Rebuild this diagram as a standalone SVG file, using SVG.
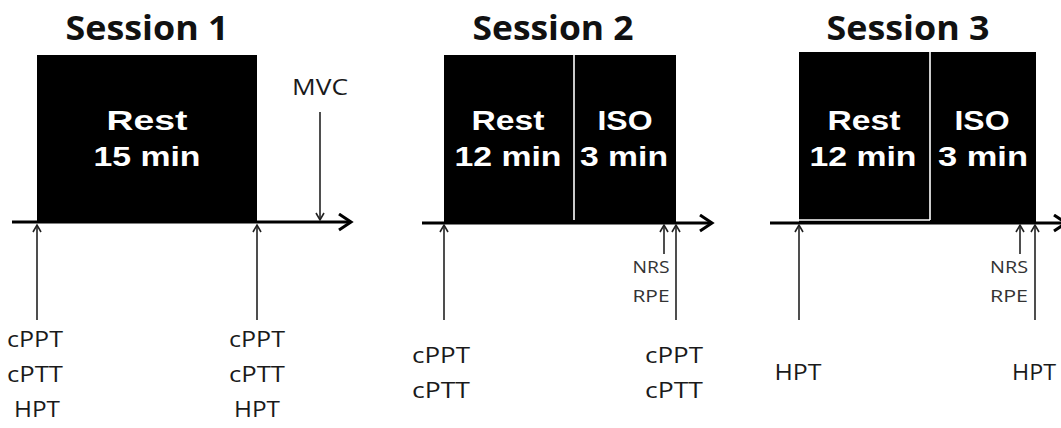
<svg xmlns="http://www.w3.org/2000/svg" width="1061" height="428" viewBox="0 0 1061 428">
<style>
.title{font-family:"Open Sans","Liberation Sans",Arial,sans-serif;font-weight:bold;font-size:34px;fill:#111;text-anchor:middle}
.box{fill:#000}
.div{stroke:#fff;stroke-width:1.6}
.bt{font-family:"Liberation Sans",Arial,sans-serif;font-weight:bold;font-size:28px;fill:#fff;text-anchor:middle}
.lb{font-family:"Open Sans","Liberation Sans",sans-serif;font-size:22px;fill:#1a1a1a;text-anchor:middle}
.sm{font-family:"Open Sans","Liberation Sans",sans-serif;font-size:17px;fill:#333;text-anchor:middle}
.ax{stroke:#000;stroke-width:3;fill:none}
.ar{stroke:#222;stroke-width:1.6;fill:none}
</style>
<defs>
<marker id="big" markerUnits="userSpaceOnUse" markerWidth="20" markerHeight="20" refX="13" refY="9" orient="auto">
<path d="M1,1 L13,9 L1,17" fill="none" stroke="#000" stroke-width="3"/>
</marker>
<marker id="sml" markerUnits="userSpaceOnUse" markerWidth="12" markerHeight="12" refX="8" refY="5" orient="auto">
<path d="M1,1 L8,5 L1,9" fill="none" stroke="#222" stroke-width="1.6"/>
</marker>
</defs>

<g id="session1">
<text class="title" x="147" y="40" textLength="163" lengthAdjust="spacingAndGlyphs">Session 1</text>
<rect class="box" x="37" y="55" width="220" height="167"/>
<text class="bt" x="147" y="130" textLength="81" lengthAdjust="spacingAndGlyphs">Rest</text>
<text class="bt" x="147" y="166" textLength="107" lengthAdjust="spacingAndGlyphs">15 min</text>
<text class="lb" x="320" y="95" textLength="56" lengthAdjust="spacingAndGlyphs">MVC</text>
<text class="lb" x="35" y="347" textLength="56" lengthAdjust="spacingAndGlyphs">cPPT</text>
<text class="lb" x="35" y="382" textLength="56" lengthAdjust="spacingAndGlyphs">cPTT</text>
<text class="lb" x="37" y="417" textLength="46" lengthAdjust="spacingAndGlyphs">HPT</text>
<text class="lb" x="257" y="347" textLength="56" lengthAdjust="spacingAndGlyphs">cPPT</text>
<text class="lb" x="257" y="382" textLength="56" lengthAdjust="spacingAndGlyphs">cPTT</text>
<text class="lb" x="257" y="417" textLength="46" lengthAdjust="spacingAndGlyphs">HPT</text>
</g>

<g id="session2">
<text class="title" x="553" y="40" textLength="161" lengthAdjust="spacingAndGlyphs">Session 2</text>
<rect class="box" x="444" y="55" width="232" height="167"/>
<line class="div" x1="574" y1="55" x2="574" y2="220"/>
<text class="bt" x="508" y="130" textLength="73" lengthAdjust="spacingAndGlyphs">Rest</text>
<text class="bt" x="508" y="166" textLength="107" lengthAdjust="spacingAndGlyphs">12 min</text>
<text class="bt" x="625" y="130" textLength="55" lengthAdjust="spacingAndGlyphs">ISO</text>
<text class="bt" x="624" y="166" textLength="88" lengthAdjust="spacingAndGlyphs">3 min</text>
<text class="sm" x="651" y="273" textLength="37" lengthAdjust="spacingAndGlyphs">NRS</text>
<text class="sm" x="651" y="302" textLength="37" lengthAdjust="spacingAndGlyphs">RPE</text>
<text class="lb" x="441" y="363" textLength="58" lengthAdjust="spacingAndGlyphs">cPPT</text>
<text class="lb" x="441" y="398" textLength="58" lengthAdjust="spacingAndGlyphs">cPTT</text>
<text class="lb" x="674" y="363" textLength="58" lengthAdjust="spacingAndGlyphs">cPPT</text>
<text class="lb" x="674" y="398" textLength="58" lengthAdjust="spacingAndGlyphs">cPTT</text>
</g>

<g id="session3">
<text class="title" x="908" y="40" textLength="163" lengthAdjust="spacingAndGlyphs">Session 3</text>
<rect class="box" x="799" y="52" width="237" height="171"/>
<line class="div" x1="930" y1="52" x2="930" y2="220"/>
<line class="div" x1="799" y1="220" x2="930" y2="220" stroke-width="1"/>
<text class="bt" x="864" y="130" textLength="73" lengthAdjust="spacingAndGlyphs">Rest</text>
<text class="bt" x="863" y="166" textLength="107" lengthAdjust="spacingAndGlyphs">12 min</text>
<text class="bt" x="982" y="130" textLength="55" lengthAdjust="spacingAndGlyphs">ISO</text>
<text class="bt" x="983" y="166" textLength="90" lengthAdjust="spacingAndGlyphs">3 min</text>
<text class="sm" x="1009" y="273" textLength="38" lengthAdjust="spacingAndGlyphs">NRS</text>
<text class="sm" x="1009" y="302" textLength="38" lengthAdjust="spacingAndGlyphs">RPE</text>
<text class="lb" x="798" y="380" textLength="47" lengthAdjust="spacingAndGlyphs">HPT</text>
<text class="lb" x="1034" y="380" textLength="44" lengthAdjust="spacingAndGlyphs">HPT</text>
</g>

<g id="connectors">
<line class="ax" x1="12" y1="222" x2="351" y2="222" marker-end="url(#big)"/>
<line class="ax" x1="422" y1="223" x2="712" y2="223" marker-end="url(#big)"/>
<line class="ax" x1="770" y1="223" x2="1066" y2="223" marker-end="url(#big)"/>
<line class="ar" x1="320" y1="112" x2="320" y2="220" marker-end="url(#sml)"/>
<line class="ar" x1="37" y1="320" x2="37" y2="225" marker-end="url(#sml)"/>
<line class="ar" x1="257" y1="320" x2="257" y2="225" marker-end="url(#sml)"/>
<line class="ar" x1="444" y1="320" x2="444" y2="225" marker-end="url(#sml)"/>
<line class="ar" x1="664" y1="254" x2="664" y2="225" marker-end="url(#sml)"/>
<line class="ar" x1="676" y1="320" x2="676" y2="225" marker-end="url(#sml)"/>
<line class="ar" x1="799" y1="320" x2="799" y2="225" marker-end="url(#sml)"/>
<line class="ar" x1="1020" y1="254" x2="1020" y2="225" marker-end="url(#sml)"/>
<line class="ar" x1="1035" y1="320" x2="1035" y2="225" marker-end="url(#sml)"/>
</g>
</svg>
